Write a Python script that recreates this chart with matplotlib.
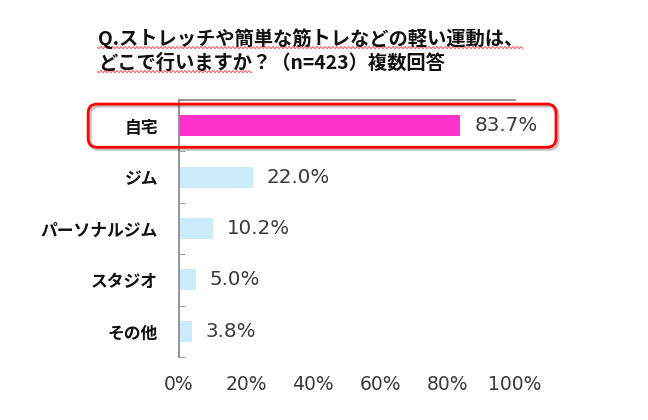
import numpy as np
import matplotlib.pyplot as plt
import matplotlib.patheffects as pe
from matplotlib.patches import FancyBboxPatch
from matplotlib.lines import Line2D
from matplotlib.transforms import IdentityTransform

# data
categories = ['自宅', 'ジム', 'パーソナルジム', 'スタジオ', 'その他']
values = [83.7, 22.0, 10.2, 5.0, 3.8]
value_labels = ['83.7%', '22.0%', '10.2%', '5.0%', '3.8%']
xticks = [0, 20, 40, 60, 80, 100]
xtick_labels = ['0%', '20%', '40%', '60%', '80%', '100%']
title_line1 = 'Q.ストレッチや簡単な筋トレなどの軽い運動は、'
title_line2 = 'どこで行いますか？（n=423）複数回答'
title_line2_marked = 'どこで行いますか'

JP = ['Noto Sans CJK JP', 'DejaVu Sans']
NUM = ['DejaVu Sans']
plt.rcParams['font.family'] = JP

fig = plt.figure(figsize=(6.48, 4.2), dpi=100)
ax = fig.add_axes([0.276, 0.15, 0.519, 0.612])

ypos = np.arange(len(categories))
colors = ['#FF33CC'] + ['#CCEBFB'] * (len(categories) - 1)
ax.barh(ypos, values, height=0.41, color=colors)
ax.set_xlim(0, 100)
ax.set_ylim(len(categories) - 0.5, -0.5)

ax.set_yticks(ypos)
ax.set_yticklabels(categories, fontweight='bold', fontsize=12.1, color='#111111')
ax.set_yticks(np.arange(-0.5, len(categories), 1), minor=True)
ax.tick_params(axis='y', which='major', length=0, pad=15)
ax.tick_params(axis='y', which='minor', direction='in', length=4, color='#8c8c8c')

ax.set_xticks(xticks)
ax.set_xticklabels(xtick_labels, family=NUM, fontsize=13.5, color='#3a3a3a')
ax.tick_params(axis='x', length=0, pad=13)

for s in ['right', 'bottom']:
    ax.spines[s].set_visible(False)
for s in ['left', 'top']:
    ax.spines[s].set_color('#8c8c8c')
    ax.spines[s].set_linewidth(1.3)

for i, (v, lab) in enumerate(zip(values, value_labels)):
    ax.annotate(lab, (v, i), xytext=(10, 0), textcoords='offset points',
                va='center', ha='left', family=NUM, fontsize=14.3,
                color='#3a3a3a')

t1 = fig.text(0.151, 0.909, title_line1, fontsize=13.9, fontweight='bold',
              va='center', ha='left', color='#111111')
t2 = fig.text(0.151, 0.85, title_line2, fontsize=13.9, fontweight='bold',
              va='center', ha='left', color='#111111')
t2m = fig.text(0.151, 0.85, title_line2_marked, fontsize=13.9, fontweight='bold',
               va='center', ha='left', alpha=0)

fig.canvas.draw()
rend = fig.canvas.get_renderer()

# red highlight box round the first bar
W = fig.bbox.width
_, ya = ax.transData.transform((0, -0.42))
_, yb = ax.transData.transform((0, 0.42))
x0, x1 = 0.136 * W, 0.858 * W
box = FancyBboxPatch((x0, min(ya, yb)), x1 - x0, abs(ya - yb),
                     boxstyle='round,pad=0,rounding_size=9',
                     transform=IdentityTransform(), fill=False,
                     ec='#FF0000', lw=2.0, clip_on=False,
                     path_effects=[pe.SimpleLineShadow(offset=(1.5, -1.5), shadow_color='k', alpha=0.25),
                                   pe.Normal()])
fig.add_artist(box)

# spell-check style wavy underline
def wavy(xa, xb, yy):
    xs = np.arange(xa, xb, 0.5)
    ys = yy + 1.0 * np.sin(xs * 2 * np.pi / 4.0)
    fig.add_artist(Line2D(xs, ys, transform=IdentityTransform(),
                          color='#FF5050', lw=0.8, alpha=0.85))

b1 = t1.get_window_extent(rend)
wavy(b1.x0, b1.x1, b1.y0 + 1)
b2 = t2m.get_window_extent(rend)
wavy(b2.x0, b2.x1, b2.y0 + 1)

fig.savefig('out.png', dpi=100, facecolor='white')
